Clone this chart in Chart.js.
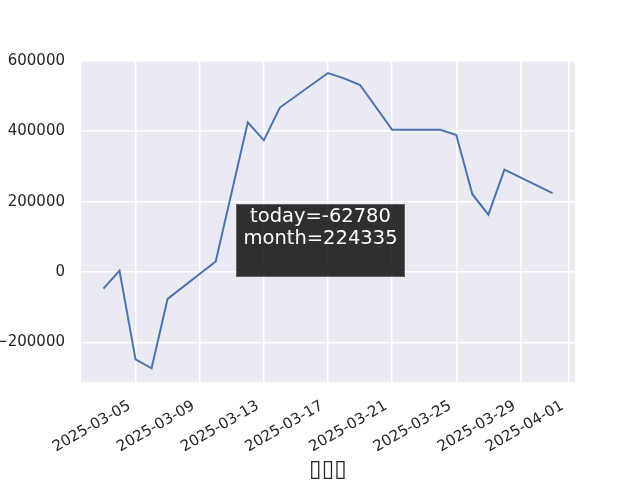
<!DOCTYPE html>
<html>
<head>
<meta charset="utf-8">
<script src="https://cdn.jsdelivr.net/npm/chart.js@4.4.0/dist/chart.umd.min.js"></script>
<style>
html, body { margin: 0; padding: 0; background: #fff; }
#wrap { width: 640px; height: 480px; }
</style>
</head>
<body>
<div id="wrap"><canvas id="chart" width="640" height="480"></canvas></div>
<script>
// day of March 2025 (04-01 = 32) and month-to-date value
const tradeDays = [3, 4, 5, 6, 7, 10, 12, 13, 14, 17, 18, 19, 21, 24, 25, 26, 27, 28, 31];
const monthValues = [-47000, 4000, -248000, -273000, -76000, 30000, 425000, 374000, 467000,
    565000, 550000, 531000, 404000, 404000, 389000, 221000, 163000, 291000, 224335];

const tickDays = [5, 9, 13, 17, 21, 25, 29, 32];
const tickLabels = ['2025-03-05', '2025-03-09', '2025-03-13', '2025-03-17',
    '2025-03-21', '2025-03-25', '2025-03-29', '2025-04-01'];
const yTicks = [-200000, 0, 200000, 400000, 600000];
const noteLines = ['today=-62780', 'month=224335'];
const xTitle = '\u25AF\u25AF\u25AF';

const textColor = '#262626';
const font = 'DejaVu Sans';

// white page + grey plot area (seaborn darkgrid look)
const bgPlugin = {
    id: 'bg',
    beforeDraw(chart) {
        const {ctx, chartArea} = chart;
        ctx.save();
        ctx.fillStyle = '#fff';
        ctx.fillRect(0, 0, chart.width, chart.height);
        ctx.fillStyle = '#EAEAF2';
        ctx.fillRect(chartArea.left, chartArea.top, chartArea.right - chartArea.left, chartArea.bottom - chartArea.top);
        ctx.restore();
    }
};

// the dark text box in the middle
const notePlugin = {
    id: 'note',
    afterDatasetsDraw(chart) {
        const {ctx, chartArea} = chart;
        const x0 = chartArea.left + 155;
        const y0 = chartArea.top + 144;
        const w = 169, h = 73;
        ctx.save();
        ctx.fillStyle = 'rgba(0,0,0,0.8)';
        ctx.fillRect(x0, y0, w, h);
        ctx.strokeStyle = 'rgba(110,110,110,0.8)';
        ctx.lineWidth = 1;
        ctx.strokeRect(x0 + 0.5, y0 + 0.5, w - 1, h - 1);
        ctx.fillStyle = '#fff';
        ctx.font = '19.5px "' + font + '"';
        ctx.textAlign = 'center';
        ctx.textBaseline = 'middle';
        noteLines.forEach((line, i) => {
            ctx.fillText(line, x0 + w / 2, y0 + 13 + i * 22);
        });
        ctx.restore();
    }
};

new Chart(document.getElementById('chart'), {
    type: 'line',
    data: {
        datasets: [{
            data: tradeDays.map((d, i) => ({x: d, y: monthValues[i]})),
            borderColor: '#4C72B0',
            borderWidth: 2,
            pointRadius: 0,
            tension: 0,
            fill: false
        }]
    },
    options: {
        responsive: false,
        animation: false,
        layout: {padding: {left: 0, right: 65, top: 60, bottom: 0}},
        plugins: {legend: {display: false}, tooltip: {enabled: false}},
        scales: {
            x: {
                type: 'linear',
                min: 1.6,
                max: 32.4,
                afterBuildTicks: s => { s.ticks = tickDays.map(v => ({value: v})); },
                afterFit: s => { s.height = 98; },
                ticks: {
                    autoSkip: false,
                    minRotation: 30,
                    maxRotation: 30,
                    padding: 15,
                    labelOffset: -6,
                    color: textColor,
                    font: {family: font, size: 15},
                    callback: (v, i) => tickLabels[i]
                },
                grid: {color: '#fff', lineWidth: 1.5, drawTicks: false},
                border: {display: false},
                title: {
                    display: true,
                    text: xTitle,
                    color: textColor,
                    font: {family: font, size: 23, lineHeight: 0.9},
                    padding: {top: 0, bottom: 0}
                }
            },
            y: {
                min: -312000,
                max: 602000,
                afterBuildTicks: s => { s.ticks = yTicks.map(v => ({value: v})); },
                afterFit: s => { s.width = 81; },
                ticks: {
                    padding: 16,
                    color: textColor,
                    font: {family: font, size: 15},
                    callback: v => String(v).replace('-', '\u2212')
                },
                grid: {color: '#fff', lineWidth: 1.5, drawTicks: false},
                border: {display: false}
            }
        }
    },
    plugins: [bgPlugin, notePlugin]
});
</script>
</body>
</html>
